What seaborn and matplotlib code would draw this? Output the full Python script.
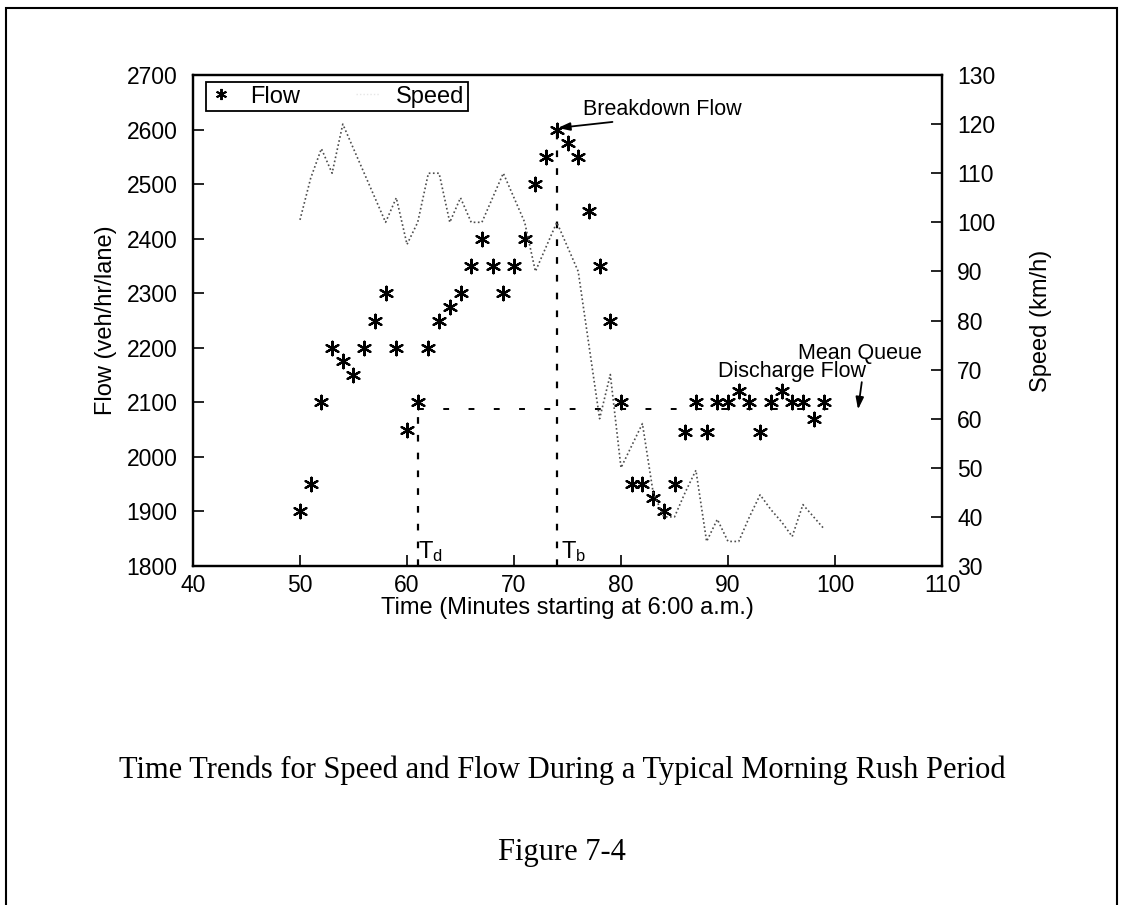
"""
Time trends for speed and flow during a typical morning rush period (Figure 7-4).

Flow (veh/hr/lane) as asterisks on the left axis, speed (km/h) as a dotted
line on the right axis. Dashed guides mark T_d, T_b and the mean queue
discharge flow.

Output:
  out.png
"""

import matplotlib
matplotlib.use("Agg")
import matplotlib.pyplot as plt
from matplotlib.lines import Line2D
from matplotlib.patches import Rectangle
import seaborn as sns

# ── data ─────────────────────────────────────────────────────────────────────
minutes = [50, 51, 52, 53, 54, 55, 56, 57, 58, 59,
           60, 61, 62, 63, 64, 65, 66, 67, 68, 69,
           70, 71, 72, 73, 74, 75, 76, 77, 78, 79,
           80, 81, 82, 83, 84, 85, 86, 87, 88, 89,
           90, 91, 92, 93, 94, 95, 96, 97, 98, 99]

flow = [1900, 1950, 2100, 2200, 2175, 2150, 2200, 2250, 2300, 2200,
        2050, 2100, 2200, 2250, 2275, 2300, 2350, 2400, 2350, 2300,
        2350, 2400, 2500, 2550, 2600, 2575, 2550, 2450, 2350, 2250,
        2100, 1950, 1950, 1925, 1900, 1950, 2045, 2100, 2045, 2100,
        2100, 2120, 2100, 2045, 2100, 2120, 2100, 2100, 2070, 2100]

speed = [100.5, 109, 115, 110, 120, 115, 110, 105, 100, 105,
         95.5, 100, 110, 110, 100, 105, 100, 100, 105, 110,
         105, 100, 90, 95, 100, 95, 90, 75, 60, 69,
         50, 54.5, 59, 45, 40, 40, 45, 49.5, 35, 39.5,
         35, 35, 40, 44.5, 41.5, 39, 36, 42.5, 40, 37.5]

T_D = 61                # onset of queue discharge
T_B = 74                # flow breakdown
DISCHARGE_FLOW = 2087   # mean queue discharge flow
DISCHARGE_END = 101

flow_ticks = list(range(1800, 2701, 100))
speed_ticks = list(range(30, 131, 10))
time_ticks = list(range(40, 111, 10))

sns.set_theme(style="ticks", rc={
    "axes.edgecolor": "black", "axes.labelcolor": "black",
    "xtick.color": "black", "ytick.color": "black", "text.color": "black",
})
plt.rcParams["font.family"] = ["Liberation Sans", "DejaVu Sans"]
plt.rcParams["mathtext.default"] = "regular"

STAR = (6, 2, 0)
TICK_FS = 16.5
LABEL_FS = 17
NOTE_FS = 15.5

fig = plt.figure(figsize=(11.24, 9.05), dpi=100)
ax = fig.add_axes([0.1717, 0.3746, 0.6664, 0.5425])
ax2 = ax.twinx()

# speed: thin dotted line on the right axis
sns.lineplot(x=minutes, y=speed, ax=ax2, color="0.3", linewidth=1.2,
             linestyle=(0, (1, 1.5)), zorder=2)

# flow: asterisks on the left axis
sns.scatterplot(x=minutes, y=flow, ax=ax, marker=STAR, color="black",
                s=95, linewidth=1.6, zorder=3)

# ── dashed guides ─────────────────────────────────────────────────────────────
breakdown_flow = max(flow)
dash = dict(color="black", linewidth=1.6, linestyle=(0, (3, 5)), zorder=1)
ax.plot([T_D, T_D], [flow_ticks[0], DISCHARGE_FLOW], **dash)
ax.plot([T_B, T_B], [flow_ticks[0], breakdown_flow], **dash)
ax.plot([T_D, DISCHARGE_END], [DISCHARGE_FLOW, DISCHARGE_FLOW],
        color="black", linewidth=1.4, linestyle=(0, (3, 10)), zorder=1)

# ── annotations ──────────────────────────────────────────────────────────────
arrow = dict(arrowstyle="-|>,head_length=0.6,head_width=0.2", color="black",
             lw=1.3, shrinkA=0, shrinkB=0)
ax.text(76.45, 2636, "Breakdown Flow", fontsize=NOTE_FS, va="center")
ax.annotate("", xy=(T_B + 0.1, breakdown_flow + 3), xytext=(79.2, 2614),
            arrowprops=arrow)
ax.text(96.5, 2190, "Mean Queue", fontsize=NOTE_FS, va="center")
ax.text(89.1, 2156, "Discharge Flow", fontsize=NOTE_FS, va="center")
ax.annotate("", xy=(DISCHARGE_END + 1.15, DISCHARGE_FLOW),
            xytext=(DISCHARGE_END + 1.5, 2137), arrowprops=arrow)
ax.text(T_D + 0.05, 1826, "$T_d$", fontsize=LABEL_FS, va="center")
ax.text(T_B + 0.35, 1826, "$T_b$", fontsize=LABEL_FS, va="center")

# ── axes ─────────────────────────────────────────────────────────────────────
ax.set_xlim(time_ticks[0], time_ticks[-1])
ax.set_ylim(flow_ticks[0], flow_ticks[-1])
ax2.set_ylim(speed_ticks[0], speed_ticks[-1])
ax.set_xticks(time_ticks)
ax.set_yticks(flow_ticks)
ax2.set_yticks(speed_ticks)

ax.tick_params(axis="both", direction="in", length=8, width=1.2,
               labelsize=TICK_FS, top=False, right=False)
ax.tick_params(axis="y", pad=11)
ax.tick_params(axis="x", pad=6)
ax2.tick_params(axis="y", direction="in", length=8, width=1.2,
                labelsize=TICK_FS, pad=11, left=False)
for a in (ax, ax2):
    for sp in a.spines.values():
        sp.set_linewidth(1.6)
        sp.set_visible(True)

ax.set_xlabel("Time (Minutes starting at 6:00 a.m.)", fontsize=LABEL_FS)
ax.set_ylabel("Flow (veh/hr/lane)", fontsize=LABEL_FS)
ax2.set_ylabel("Speed (km/h)", fontsize=LABEL_FS)
ax.xaxis.set_label_coords(0.5, -0.063)
ax.yaxis.set_label_coords(-0.101, 0.5)
ax2.yaxis.set_label_coords(1.117, 0.5)

# MATLAB-style one-row legend
handles = [
    Line2D([], [], marker=STAR, linestyle="none", color="black",
           markersize=8, markeredgewidth=1.4),
    Line2D([], [], linestyle=(0, (1, 1.5)), color="0.9", linewidth=1.0),
]
ax2.legend(handles, ["Flow", "Speed"], ncol=2, loc="upper left",
           bbox_to_anchor=(0.0174, 0.9857), borderaxespad=0,
           fontsize=LABEL_FS, frameon=True, fancybox=False, framealpha=1,
           edgecolor="black", borderpad=0.15, handlelength=1.0,
           handletextpad=0.7, columnspacing=2.4).get_frame().set_linewidth(1.3)

# ── caption and page frame ───────────────────────────────────────────────────
fig.text(0.5, 1 - 770 / 905,
         "Time Trends for Speed and Flow During a Typical Morning Rush Period",
         family="Liberation Serif", fontsize=22, ha="center", va="center")
fig.text(0.5, 1 - 852 / 905, "Figure 7-4",
         family="Liberation Serif", fontsize=22, ha="center", va="center")
fig.add_artist(Rectangle((6 / 1124, -0.05), 1111 / 1124, 1.05 - 8 / 905,
                         transform=fig.transFigure, fill=False,
                         edgecolor="black", linewidth=1.5))

fig.savefig("out.png", dpi=100)
plt.close(fig)
